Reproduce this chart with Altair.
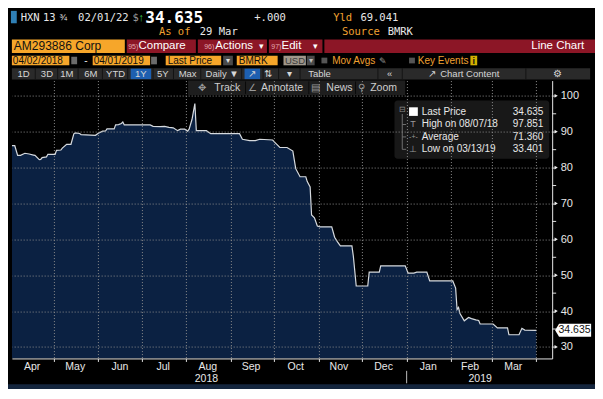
import altair as alt
import pandas as pd

# ---------------- data ----------------
obs_dates = [
    "2018-04-02", "2018-04-04", "2018-04-06", "2018-04-08", "2018-04-11", "2018-04-14",
    "2018-04-17", "2018-04-18", "2018-04-21", "2018-04-22", "2018-04-23", "2018-04-26",
    "2018-04-27", "2018-05-02", "2018-05-03", "2018-05-06", "2018-05-07", "2018-05-10",
    "2018-05-13", "2018-05-15", "2018-05-16", "2018-05-19", "2018-05-20", "2018-05-30",
    "2018-06-01", "2018-06-04", "2018-06-06", "2018-06-07", "2018-06-12", "2018-06-13",
    "2018-06-15", "2018-06-17", "2018-06-18", "2018-06-19", "2018-07-07", "2018-07-09",
    "2018-07-14", "2018-07-17", "2018-07-20", "2018-07-23", "2018-07-26", "2018-07-28",
    "2018-07-31", "2018-08-02", "2018-08-03", "2018-08-05", "2018-08-06", "2018-08-07",
    "2018-08-08", "2018-08-15", "2018-08-18", "2018-09-07", "2018-09-09", "2018-09-14",
    "2018-09-18", "2018-09-21", "2018-09-30", "2018-10-02", "2018-10-05", "2018-10-10",
    "2018-10-14", "2018-10-16", "2018-10-19", "2018-10-23", "2018-10-24", "2018-10-26",
    "2018-10-27", "2018-10-29", "2018-10-31", "2018-11-02", "2018-11-10", "2018-11-12",
    "2018-11-14", "2018-11-16", "2018-11-24", "2018-11-25", "2018-11-27", "2018-12-05",
    "2018-12-06", "2018-12-13", "2018-12-14", "2018-12-31", "2019-01-02", "2019-01-06",
    "2019-01-08", "2019-01-15", "2019-01-17", "2019-02-02", "2019-02-04", "2019-02-05",
    "2019-02-06", "2019-02-07", "2019-02-10", "2019-02-13", "2019-02-15", "2019-02-18",
    "2019-02-20", "2019-02-21", "2019-03-02", "2019-03-05", "2019-03-12", "2019-03-13",
    "2019-03-20", "2019-03-22", "2019-03-24", "2019-04-01",
]
obs_prices = [
    86.1, 86.1, 83.4, 83.4, 84.0, 83.8,
    83.5, 83.4, 82.2, 82.3, 82.8, 83.0,
    83.7, 83.7, 84.8, 84.9, 85.45, 86.5,
    86.5, 89.4, 89.7, 89.5, 89.2, 89.0,
    89.6, 90.15, 90.2, 90.8, 90.8, 91.9,
    92.0, 92.3, 92.7, 91.9, 91.9, 91.5,
    91.4, 91.5, 91.2, 91.1, 90.3, 90.7,
    90.7, 90.15, 90.7, 93.4, 95.6, 97.851,
    90.3, 90.3, 89.45, 89.45, 87.9, 87.5,
    87.5, 87.9, 87.7, 86.8, 85.6, 85.6,
    84.6, 79.7, 77.45, 77.45, 76.1, 74.6,
    66.8, 66.0, 63.7, 63.5, 63.5, 60.6,
    59.3, 58.2, 58.2, 55.3, 47.0, 47.0,
    50.85, 50.85, 52.6, 52.6, 50.6, 50.6,
    50.85, 50.85, 48.4, 48.4, 46.4, 40.45,
    41.0, 39.3, 37.3, 38.2, 37.9, 37.55,
    37.4, 36.4, 36.4, 35.3, 35.3, 33.401,
    33.4, 35.2, 34.7, 34.635,
]
month_names = ["Apr", "May", "Jun", "Jul", "Aug", "Sep", "Oct", "Nov", "Dec", "Jan", "Feb", "Mar"]
month_centres = ["2018-04-16", "2018-05-16", "2018-06-16", "2018-07-16", "2018-08-16", "2018-09-15",
                 "2018-10-16", "2018-11-15", "2018-12-16", "2019-01-16", "2019-02-14", "2019-03-16"]
month_starts = [(2018, 5), (2018, 6), (2018, 7), (2018, 8), (2018, 9), (2018, 10), (2018, 11),
                (2018, 12), (2019, 1), (2019, 2), (2019, 3), (2019, 4)]
year_names = ["2018", "2019"]
year_centres = ["2018-08-15", "2019-02-21"]
year_break = ["2019-01-01"]
y_major = [30, 40, 50, 60, 70, 80, 90, 100]
y_minor = [35, 45, 55, 65, 75, 85, 95]
legend_names = ["Last Price", "High on 08/07/18", "Average", "Low on 03/13/19"]
legend_values = ["34.635", "97.851", "71.360", "33.401"]
last_price = [34.635]

# ---------------- layout ----------------
W, H = 587, 381
SX, SY = W / 603, H / 399
L0, R0, T0, B0 = 4, 559, 76, 367
PL, PT = L0 * SX, T0 * SY
PW, PH = (R0 - L0) * SX, (B0 - T0) * SY
Y_LO, Y_HI = 26.8, 104.26


def px(r):
    return r * SX - PL


def py(r):
    return r * SY - PT


SANS = "Liberation Sans, Arial, Helvetica, sans-serif"
MONO = "DejaVu Sans Mono, Liberation Mono, monospace"
ORANGE = "#f6a62a"
AMBER = "#f0a030"
RED = "#8c1626"
WHITE = "#e8e8e8"

ONE = pd.DataFrame({"k": [0]})
fg_layers = []


def mk_rect(x1, y1, x2, y2, color, opacity=1.0, radius=0):
    return alt.Chart(ONE).mark_rect(color=color, opacity=opacity, cornerRadius=radius).encode(
        x=alt.value(px(x1)), x2=alt.value(px(x2)), y=alt.value(py(y1)), y2=alt.value(py(y2)))


def text(s, x, y, color=WHITE, size=11, align="left", font=SANS, weight="normal"):
    fg_layers.append(alt.Chart(ONE).mark_text(
        text=s, align=align, baseline="middle", color=color,
        fontSize=size, font=font, fontWeight=weight).encode(
        x=alt.value(px(x)), y=alt.value(py(y))))


def rect(x1, y1, x2, y2, color, opacity=1.0, radius=0):
    fg_layers.append(mk_rect(x1, y1, x2, y2, color, opacity, radius))


def seg(x1, y1, x2, y2, color, width=1.0):
    fg_layers.append(alt.Chart(ONE).mark_rule(color=color, strokeWidth=width).encode(
        x=alt.value(px(x1)), x2=alt.value(px(x2)), y=alt.value(py(y1)), y2=alt.value(py(y2))))


# ---------------- scales / axes ----------------
xs = alt.Scale(domain=[alt.DateTime(year=2018, month=4, date=2),
                       alt.DateTime(year=2019, month=4, date=12)])
ys = alt.Scale(domain=[Y_LO, Y_HI], nice=False, zero=False)

xaxis = alt.Axis(values=[alt.DateTime(year=y, month=m, date=1) for y, m in month_starts],
                 labels=False, title=None, tickSize=3, tickColor="#dddddd",
                 domainColor="#e0e0e0", grid=True, gridColor="#8a8a8a", gridDash=[1, 2],
                 gridWidth=1, zindex=1)
yaxis = alt.Axis(orient="right", values=y_major, title=None, tickSize=3, tickColor="#e0e0e0",
                 domainColor="#e6e6e6", labelPadding=5, labelFontSize=11, labelColor=WHITE,
                 labelFont=SANS, grid=True, gridColor="#8a8a8a", gridDash=[1, 2], gridWidth=1,
                 zindex=1)


def X(field):
    return alt.X(field, scale=xs, axis=xaxis)


def Y(field):
    return alt.Y(field, scale=ys, axis=yaxis)


df = pd.DataFrame({"date": pd.to_datetime(obs_dates), "price": obs_prices})

area = alt.Chart(df).mark_area(color="#0b2142", clip=True).encode(
    x=X("date:T"), y=Y("price:Q"), y2=alt.Y2Datum(Y_LO))
line = alt.Chart(df).mark_line(color="#d6dade", strokeWidth=1.2, clip=True).encode(
    x=X("date:T"), y=Y("price:Q"))

mdf = pd.DataFrame({"m": month_names, "d": pd.to_datetime(month_centres)})
month_text = alt.Chart(mdf).mark_text(color=WHITE, fontSize=10.5, font=SANS, baseline="middle").encode(
    x=X("d:T"), y=alt.value(py(375.5)), text="m:N")

ydf = pd.DataFrame({"yr": year_names, "d": pd.to_datetime(year_centres)})
year_text = alt.Chart(ydf).mark_text(color=WHITE, fontSize=10.5, font=SANS, baseline="middle").encode(
    x=X("d:T"), y=alt.value(py(388.5)), text="yr:N")

bdf = pd.DataFrame({"d": pd.to_datetime(year_break)})
year_rule = alt.Chart(bdf).mark_rule(color="#bbbbbb", strokeWidth=1).encode(
    x=X("d:T"), y=alt.value(py(380)), y2=alt.value(py(393)))

tick_major = alt.Chart(pd.DataFrame({"v": y_major})).mark_point(
    shape="triangle-right", filled=True, size=14, color="#f0f0f0", opacity=1).encode(
    y=Y("v:Q"), x=alt.value(PW + 4))
tick_minor = alt.Chart(pd.DataFrame({"v": y_minor})).mark_rule(color="#e0e0e0").encode(
    y=Y("v:Q"), x=alt.value(PW), x2=alt.value(PW + 4))

tw = 37 * SX
tag_df = pd.DataFrame({"p": last_price})
tag_box = alt.Chart(tag_df).mark_point(
    shape="M -1 0 L -0.78 -0.36 L 1 -0.36 L 1 0.36 L -0.78 0.36 Z",
    filled=True, color="#ffffff", opacity=1, size=tw * tw).encode(
    y=Y("p:Q"), x=alt.value(px(580.5)))
tag_text = alt.Chart(tag_df).mark_text(color="#111111", fontSize=10.5, font=SANS, baseline="middle").encode(
    y=Y("p:Q"), x=alt.value(px(582)), text=alt.Text("p:Q", format=".3f"))

# ---------------- header ----------------
rect(3, 3, 9, 16, "#2f7fb5")
text("HXN", 13, 10, font=MONO, size=10.5)
text("13", 36, 10, font=MONO, size=10.5)
text("¾", 53, 9, font=SANS, size=9)
text("02/01/22", 72, 10, font=MONO, size=10.5)
text("$", 128, 10, color="#9a9a9a", font=MONO, size=10.5)
text("↑", 134, 10, color="#39c74f", font=SANS, size=11, weight="bold")
text("34.635", 141, 10, color="#ffffff", font=MONO, size=16, weight="bold")
text("+.000", 253, 10, font=MONO, size=10.5)
text("Yld", 334, 10, color=AMBER, font=MONO, size=10.5)
text("69.041", 362, 10, font=MONO, size=10.5)
text("As of", 155, 25.5, color=AMBER, font=MONO, size=10.5)
text("29 Mar", 197, 25.5, font=MONO, size=10.5)
text("Source", 343, 25.5, color=AMBER, font=MONO, size=10.5)
text("BMRK", 390, 25.5, font=MONO, size=10.5)

# row 3
rect(4, 33, 120, 47, ORANGE)
text("AM293886 Corp", 6, 40, color="#111111", size=12)
for a, b in [(122, 193), (195, 266), (268, 323), (325, 603)]:
    rect(a, 33, b, 47, RED)
text("95)", 123.5, 40.5, color="#e3a6ae", size=7)
text("Compare", 134, 40, color="#ffffff", size=11.5)
text("96)", 201.5, 40.5, color="#e3a6ae", size=7)
text("Actions", 213, 40, color="#ffffff", size=11.5)
text("▾", 260, 40, color="#ffffff", size=9, align="center")
text("97)", 270.5, 40.5, color="#e3a6ae", size=7)
text("Edit", 281, 40, color="#ffffff", size=11.5)
text("▾", 316, 40, color="#ffffff", size=9, align="center")
text("Line Chart", 592, 40, color="#ffffff", size=11.5, align="right")

# row 4
rect(4, 50, 63, 60, ORANGE)
text("04/02/2018", 5, 55, color="#111111", size=10)
rect(65, 51, 71, 59, "#6b6b6b")
text("-", 80, 55, color=WHITE, size=10, align="center")
rect(87, 50, 146, 60, ORANGE)
text("04/01/2019", 88, 55, color="#111111", size=10)
rect(147, 51, 153, 59, "#6b6b6b")
rect(162, 50, 219, 60, ORANGE)
text("Last Price", 164, 55, color="#111111", size=10)
rect(221, 50, 231, 60, "#4a4a4a")
text("▾", 226, 55, color="#dddddd", size=8, align="center")
rect(235, 50, 277, 60, ORANGE)
text("BMRK", 237, 55, color="#111111", size=10)
rect(283, 50, 306, 60, "#a0978b")
text("USD", 284.5, 55, color="#3a3a3a", size=9.5)
rect(307, 50, 315, 60, "#4a4a4a")
text("▾", 311, 55, color="#bbbbbb", size=8, align="center")
rect(322, 52, 328, 58, "#555555")
text("Mov Avgs", 333, 55, color=AMBER, size=10)
text("✎", 381, 55, color="#9a9a9a", size=9)
rect(412, 52, 418, 58, "#555555")
text("Key Events", 421, 55, color=AMBER, size=10)
rect(475, 50, 482, 60, "#d2b000")
text("i", 478.5, 55, color="#111111", size=9, weight="bold", align="center")

# row 5
rect(4, 63, 598, 75, "#2a2a2a")
for s in [28, 51, 72, 97, 123, 149, 170, 198, 240, 262, 278, 300, 380, 405, 532]:
    seg(s, 63, s, 75, "#141414")
rect(126, 63.5, 147, 74.5, "#1d5fb0")
rect(243, 63.5, 259, 74.5, "#1d5fb0")
for lab, c in [("1D", 16), ("3D", 40), ("1M", 60.5), ("6M", 85), ("YTD", 110.5), ("1Y", 136.5),
               ("5Y", 159), ("Max", 184.5), ("⇅", 267), ("▾", 289), ("Table", 320), ("«", 392),
               ("↗", 251), ("⚙", 564.5)]:
    text(lab, c, 69, color="#d6d6d6", size=9.5, align="center")
text("Daily ▼", 203, 69, color="#d6d6d6", size=9.5)
text("↗", 436, 69, color="#d6d6d6", size=9.5, align="center")
text("Chart Content", 444, 69, color="#d6d6d6", size=9.5)

# track toolbar (inside plot)
rect(185, 76, 408, 91, "#1e1e1e")
for s in [244, 309, 357]:
    seg(s, 77, s, 90, "#0a0a0a")
text("✥", 199, 83.5, color="#9a9a9a", size=9.5, align="center")
text("Track", 212, 83.5, color="#cfcfcf", size=10.5)
text("∠", 251, 83.5, color="#9a9a9a", size=9.5, align="center")
text("Annotate", 260, 83.5, color="#cfcfcf", size=10.5)
text("▤", 316, 83.5, color="#9a9a9a", size=9.5, align="center")
text("News", 327, 83.5, color="#cfcfcf", size=10.5)
text("⚲", 363, 83.5, color="#9a9a9a", size=9.5, align="center")
text("Zoom", 372, 83.5, color="#cfcfcf", size=10.5)

# legend box
rect(397, 97, 556, 158, "#1a1a1a", opacity=0.92, radius=3)
text("⊟", 405, 107, color="#8a8a8a", size=8, align="center")
rect(412, 104, 421, 113, "#ffffff")
seg(405, 111, 405, 148, "#6f6f6f")
for yy in [122, 135, 148]:
    seg(405, yy, 409, yy, "#6f6f6f")
text("T", 416, 122, color="#9a9a9a", size=9, align="center")
text("-+-", 416.5, 135, color="#9a9a9a", size=7, align="center")
text("⊥", 416, 148, color="#9a9a9a", size=9, align="center")
for nm, vv, yy in zip(legend_names, legend_values, [109, 122, 135, 148]):
    text(nm, 425, yy, color=WHITE, size=10)
    text(vv, 550, yy, color=WHITE, size=10, align="right")

# black band under the plot, then the bottom status strip
under_band = mk_rect(0, B0 + 0.5, 603, 394, "#000000")
status_strip = mk_rect(0, 394, 603, 399, "#14253d")

layers = [area, line] + fg_layers + [tick_minor, tick_major, tag_box, tag_text,
                                      under_band, status_strip,
                                      month_text, year_text, year_rule]

chart = alt.layer(*layers).properties(
    width=PW, height=PH,
    padding={"left": PL, "top": PT, "right": W - PL - PW, "bottom": H - PT - PH},
    autosize=alt.AutoSizeParams(type="none"),
    background="#000000",
).configure_view(strokeWidth=0).configure_axis(labelFont=SANS)

chart.save("out.html", embed_options={"renderer": "svg", "actions": False})
